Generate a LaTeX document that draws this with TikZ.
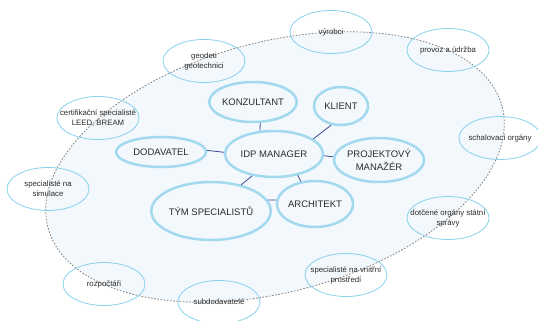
\documentclass[tikz,border=0pt]{standalone}
\usepackage{fontspec}
\setmainfont{Liberation Sans}
\usetikzlibrary{shapes.geometric}
\definecolor{bublina}{HTML}{A3D9EF}
\definecolor{obrys}{HTML}{86D1EC}
\definecolor{pozadi}{HTML}{F3F8FC}
\definecolor{linka}{HTML}{3C4A96}
\definecolor{textc}{HTML}{2B2B2B}
\begin{document}
\begin{tikzpicture}[x = 1pt, y = 1pt,
    hlavni/.style = {ellipse, draw = bublina, line width = 2.5pt, fill = pozadi, inner sep = 0pt,
        font = \fontsize{9.5}{12.5}\selectfont, text = textc, align = center},
    vnejsi/.style = {ellipse, draw = obrys, line width = 0.8pt, inner xsep = -16pt, inner ysep = -6pt,
        minimum width = 82pt, minimum height = 43pt,
        font = \fontsize{7.8}{10}\selectfont, text = textc, align = center},
    spoj/.style = {draw = linka, line width = 0.8pt}]
    \useasboundingbox (0, 0) rectangle (538, -321);
    % velka elipsa
    \fill [pozadi, rotate around = {15:(275, -167)}] (275, -167) ellipse (235 and 125);
    \draw [gray, line width = 0.8pt, dash pattern = on 1.6pt off 1.6pt, rotate around = {15:(275, -167)}] (275, -167) ellipse (235 and 125);

    \node [vnejsi] (geodeti) at (204, -61) {geodeti\\geotechnici};
    \node [vnejsi] (certifikace) at (98, -118) {certifikační specialisté\\LEED, BREAM};
    \node [vnejsi] (vyrobci) at (331, -32) {výrobci};
    \node [vnejsi] (provoz) at (448, -50) {provoz a údržba};
    \node [vnejsi] (schvalovani) at (500, -138) {schalovací orgány};
    \node [vnejsi] (organy) at (448, -218) {dotčené orgány státní\\správy};
    \node [vnejsi] (vnitrni) at (346, -275) {specialisté na vnitřní\\prostředí};
    \node [vnejsi] (subdodavatele) at (219, -302) {subdodavatelé};
    \node [vnejsi] (rozpoctari) at (104, -284) {rozpočtáři};
    \node [vnejsi] (simulace) at (48, -189) {specialisté na\\simulace};

    \node [hlavni, minimum width = 98pt, minimum height = 46pt] (idp) at (274, -154) {IDP MANAGER};
    \node [hlavni, minimum width = 64pt, minimum height = 40pt] (konzultant) at (253, -102) {KONZULTANT};
    \node [hlavni, minimum width = 54pt, minimum height = 38pt] (klient) at (341, -106) {KLIENT};
    \node [hlavni, minimum width = 90pt, minimum height = 30pt] (dodavatel) at (161, -152) {DODAVATEL};
    \node [hlavni, minimum width = 78pt, minimum height = 44pt] (projektovy) at (379, -160) {PROJEKTOVÝ\\MANAŽÉR};
    \node [hlavni, minimum width = 112pt, minimum height = 58pt] (tym) at (211, -211) {TÝM SPECIALISTŮ};
    \node [hlavni, minimum width = 58pt, minimum height = 46pt] (architekt) at (315, -204) {ARCHITEKT};

    \draw [spoj] (idp.121) -- (konzultant.-71);
    \draw [spoj] (idp.21) -- (klient.243);
    \draw [spoj] (idp.178) -- (dodavatel.2);
    \draw [spoj] (idp.-2) -- (projektovy.176);
    \draw [spoj] (idp.225) -- (tym.41);
    \draw [spoj] (idp.-42) -- (architekt.122);
    \draw [spoj] (tym.11) -- (architekt.174);
\end{tikzpicture}
\end{document}
